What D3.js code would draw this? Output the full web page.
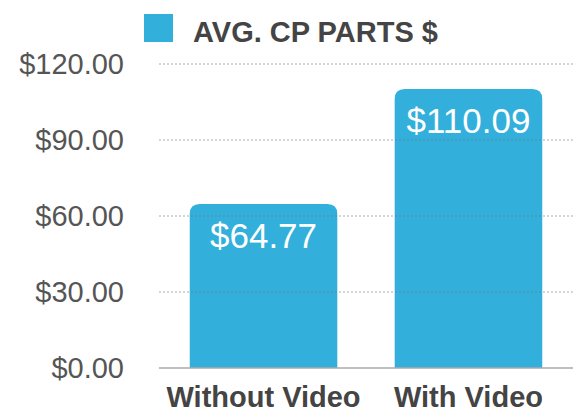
<!DOCTYPE html>
<html>
<head>
<meta charset="utf-8">
<script src="https://cdn.jsdelivr.net/npm/d3@7"></script>
<style>
  html, body { margin: 0; padding: 0; background: #fff; }
  svg { display: block; font-family: "Liberation Sans", Helvetica, Arial, sans-serif; }
</style>
</head>
<body>
<div class="chart"></div>
<script>
let categories = ["Without Video", "With Video"];
let values = [64.77, 110.09];
let yTicks = [0, 30, 60, 90, 120];
let seriesName = "AVG. CP PARTS $";

let width = 573, height = 413;
let margin = { top: 64, right: 0, bottom: 45, left: 159 };
let barColor = "#33afdc";

let fmt = d => "$" + d3.format(",.2f")(d);

let drawChart = () => {
    let svg = d3.select(".chart")
        .append("svg")
            .attr("width", width)
            .attr("height", height);

    let yScale = d3.scaleLinear()
        .domain([0, 120])
        .range([height - margin.bottom, margin.top]);

    let xScale = d3.scaleBand()
        .domain(categories)
        .range([margin.left, width - margin.right])
        .paddingInner(0.28)
        .paddingOuter(0.15);

    // y labels
    svg.append("g")
        .selectAll("text")
        .data(yTicks)
        .enter()
        .append("text")
        .attr("x", 124)
        .attr("y", d => yScale(d))
        .attr("dy", "0.35em")
        .attr("text-anchor", "end")
        .attr("font-size", 29)
        .attr("fill", "#555")
        .text(fmt);

    // bars with rounded top corners
    let r = 10;
    svg.append("g")
        .selectAll("path")
        .data(values)
        .enter()
        .append("path")
        .attr("fill", barColor)
        .attr("d", (d, i) => {
            let x0 = xScale(categories[i]);
            let x1 = x0 + xScale.bandwidth();
            let y0 = yScale(0);
            let y1 = yScale(d);
            return `M${x0},${y0} L${x0},${y1 + r} Q${x0},${y1} ${x0 + r},${y1}
                    L${x1 - r},${y1} Q${x1},${y1} ${x1},${y1 + r} L${x1},${y0} Z`;
        });

    // dotted grid over the bars
    svg.append("g")
        .selectAll("line")
        .data(yTicks.filter(d => d > 0))
        .enter()
        .append("line")
        .attr("x1", margin.left)
        .attr("x2", width)
        .attr("y1", d => yScale(d))
        .attr("y2", d => yScale(d))
        .attr("stroke", "#777")
        .attr("stroke-opacity", 0.6)
        .attr("stroke-width", 1)
        .attr("stroke-dasharray", "2,2");

    // baseline
    svg.append("line")
        .attr("x1", margin.left)
        .attr("x2", width)
        .attr("y1", yScale(0))
        .attr("y2", yScale(0))
        .attr("stroke", "#aaa")
        .attr("stroke-width", 1.5);

    // value labels
    svg.append("g")
        .selectAll("text")
        .data(values)
        .enter()
        .append("text")
        .attr("x", (d, i) => xScale(categories[i]) + xScale.bandwidth() / 2)
        .attr("y", d => yScale(d) + 44)
        .attr("text-anchor", "middle")
        .attr("font-size", 35)
        .attr("fill", "#fff")
        .text(fmt);

    // category labels
    svg.append("g")
        .selectAll("text")
        .data(categories)
        .enter()
        .append("text")
        .attr("x", d => xScale(d) + xScale.bandwidth() / 2)
        .attr("y", 407)
        .attr("text-anchor", "middle")
        .attr("font-size", 29)
        .attr("font-weight", "bold")
        .attr("fill", "#444")
        .text(d => d);

    // legend
    let legend = svg.append("g");
    legend.append("rect")
        .attr("x", 144)
        .attr("y", 14)
        .attr("width", 29)
        .attr("height", 28)
        .attr("fill", barColor);
    legend.append("text")
        .attr("x", 193)
        .attr("y", 41.5)
        .attr("font-size", 29)
        .attr("font-weight", "bold")
        .attr("fill", "#444")
        .text(seriesName);
};

drawChart();
</script>
</body>
</html>
